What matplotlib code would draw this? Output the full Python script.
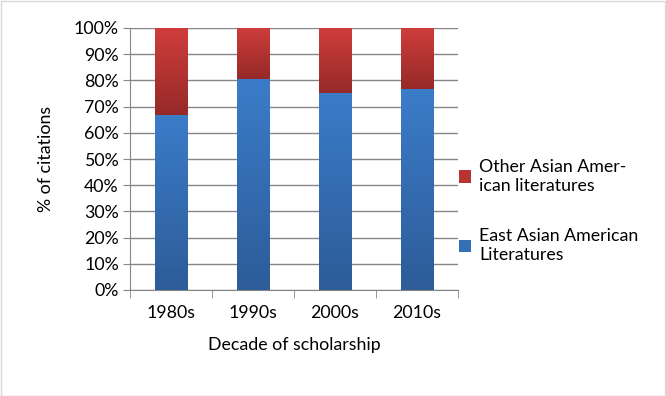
import matplotlib
matplotlib.use("Agg")
import matplotlib.pyplot as plt
import numpy as np
from matplotlib.colors import LinearSegmentedColormap
from matplotlib.patches import Patch, Rectangle

decades = ["1980s", "1990s", "2000s", "2010s"]
east_asian = [66.8, 80.5, 75.3, 76.8]
other_asian = [100 - v for v in east_asian]

plt.rcParams['font.family'] = ['Lato', 'DejaVu Sans']
fs = 12.8

fig = plt.figure(figsize=(6.66, 3.96), dpi=100)
ax = fig.add_axes([130 / 666, 1 - 290 / 396, 328 / 666, 262 / 396])

x = np.arange(len(decades))
w = 0.4
blue_cmap = LinearSegmentedColormap.from_list("b", ["#2d5c98", "#3b7cc9"])
red_cmap = LinearSegmentedColormap.from_list("r", ["#952a28", "#cf3d3b"])
grad = np.linspace(0, 1, 256).reshape(-1, 1)

b1 = ax.bar(x, east_asian, w, color="#3470b6", zorder=2)
b2 = ax.bar(x, other_asian, w, bottom=east_asian, color="#b83432", zorder=2)

# vertical gradient inside each bar segment
for bars, cmap in [(b1, blue_cmap), (b2, red_cmap)]:
    for p in bars:
        x0, y0 = p.get_x(), p.get_y()
        im = ax.imshow(grad, cmap=cmap, origin="lower", aspect="auto",
                       extent=[x0, x0 + p.get_width(), y0, y0 + p.get_height()],
                       zorder=3)
        im.set_clip_path(p)

ax.set_xlim(-0.5, len(decades) - 0.5)
ax.set_ylim(0, 100)
ax.set_yticks(np.arange(0, 101, 10))
ax.set_yticklabels(["%d%%" % v for v in range(0, 101, 10)], fontsize=fs)
ax.set_xticks(x)
ax.set_xticks(np.arange(-0.5, len(decades), 1), minor=True)
ax.set_xticklabels(decades, fontsize=fs)
ax.tick_params(axis="x", which="major", length=0, pad=11)
ax.tick_params(axis="x", which="minor", length=6, color="#868686")
ax.tick_params(axis="y", length=5, color="#868686", pad=3)
ax.yaxis.grid(True, color="#868686", linewidth=1, zorder=0)
ax.set_axisbelow(True)
for s in ["top", "right"]:
    ax.spines[s].set_visible(False)
for s in ["left", "bottom"]:
    ax.spines[s].set_color("#868686")

ax.set_xlabel("Decade of scholarship", fontsize=fs, labelpad=11)
ax.set_ylabel("% of citations", fontsize=fs, labelpad=14)

handles = [Patch(facecolor="#b83432"), Patch(facecolor="#3470b6")]
labels = ["Other Asian Amer-\nican literatures", "East Asian American\nLiteratures"]
fig.legend(handles, labels, loc="upper left", bbox_to_anchor=(443 / 666, 1 - 143 / 396),
           frameon=False, fontsize=fs, handlelength=0.7, handleheight=0.7,
           handletextpad=0.45, labelspacing=1.95)

fig.add_artist(Rectangle((0.001, 0.001), 0.997, 0.997, transform=fig.transFigure,
                         fill=False, edgecolor="#d9d9d9", linewidth=1))

fig.savefig("out.png", dpi=100)
